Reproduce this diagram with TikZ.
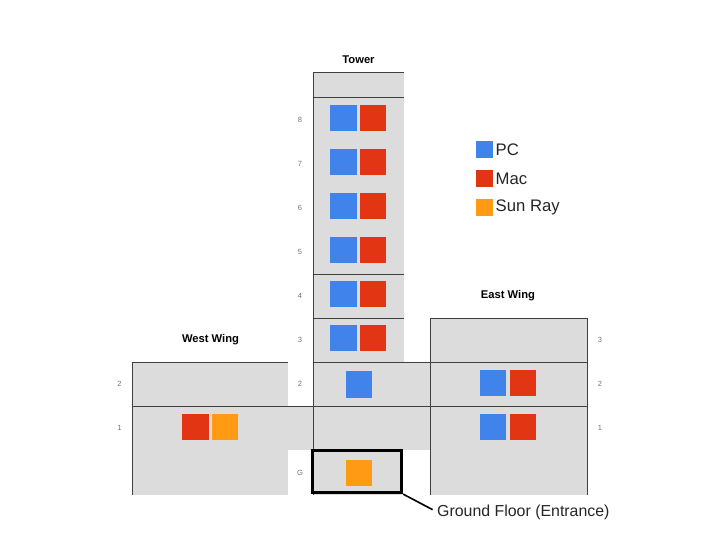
\documentclass[tikz,border=0pt]{standalone}
\usepackage{fontspec}
\setmainfont{Liberation Sans}
\definecolor{pcblue}{HTML}{4083EA}
\definecolor{macred}{HTML}{E13513}
\definecolor{sunorange}{HTML}{FE9A14}
\definecolor{floorgray}{HTML}{DCDCDC}
\definecolor{linegray}{HTML}{404040}
\begin{document}
\begin{tikzpicture}[x=1pt,y=-1pt,font=\small]
  \tikzset{
    cell/.style={draw=none,inner sep=0pt,minimum width=26.5pt,minimum height=26.5pt},
    pc/.style={cell,fill=pcblue},
    mac/.style={cell,fill=macred},
    sun/.style={cell,fill=sunorange},
    key/.style={draw=none,inner sep=0pt,minimum width=17pt,minimum height=17pt},
    keytxt/.style={anchor=west,inner sep=0pt,font=\fontsize{16.7}{18}\selectfont,text=black!85},
    wing/.style={inner sep=0pt,font=\fontsize{11.2}{12}\selectfont\bfseries},
    lvl/.style={inner sep=0pt,font=\fontsize{7.5}{8}\selectfont,text=black!55},
    fl/.style={draw=linegray,line width=0.9pt}
  }
  \useasboundingbox (0,0) rectangle (720,540);

  % floor areas
  \fill[floorgray] (313,72) rectangle (404,362);
  \fill[floorgray] (132,362) rectangle (288,406);
  \fill[floorgray] (132,406) rectangle (313,450);
  \fill[floorgray] (132,450) rectangle (288,495);
  \fill[floorgray] (313,362) rectangle (430,450);
  \fill[floorgray] (313,450) rectangle (402,495);
  \fill[floorgray] (430,318) rectangle (587,495);

  % floor lines
  \draw[fl] (313,495) -- (313,72) -- (404,72);
  \draw[fl] (313,97) -- (404,97);
  \draw[fl] (313,274) -- (404,274);
  \draw[fl] (313,318) -- (404,318);
  \draw[fl] (132,495) -- (132,362) -- (288,362);
  \draw[fl] (313,362) -- (587,362);
  \draw[fl] (132,406) -- (587,406);
  \draw[fl] (430,495) -- (430,318) -- (587,318) -- (587,495);

  % titles
  \node[wing] (tower) at (358.5,59.5) {Tower};
  \node[wing] (west) at (210.5,339.5) {West Wing};
  \node[wing] (east) at (508,295.5) {East Wing};

  % levels
  \node[lvl] (t8) at (300,119.5) {8};
  \node[lvl] (t7) at (300,163.5) {7};
  \node[lvl] (t6) at (300,207.5) {6};
  \node[lvl] (t5) at (300,251.5) {5};
  \node[lvl] (t4) at (300,295.5) {4};
  \node[lvl] (t3) at (300,340) {3};
  \node[lvl] (t2) at (300,384) {2};
  \node[lvl] (tg) at (300,473) {G};
  \node[lvl] (w2) at (119.5,384) {2};
  \node[lvl] (w1) at (119.5,428) {1};
  \node[lvl] (e3) at (600,340) {3};
  \node[lvl] (e2) at (600,384) {2};
  \node[lvl] (e1) at (600,428) {1};

  % tower machines
  \node[pc] (pc8) at (343.5,118) {};
  \node[mac] (mac8) at (373,118) {};
  \node[pc] (pc7) at (343.5,162) {};
  \node[mac] (mac7) at (373,162) {};
  \node[pc] (pc6) at (343.5,206) {};
  \node[mac] (mac6) at (373,206) {};
  \node[pc] (pc5) at (343.5,250) {};
  \node[mac] (mac5) at (373,250) {};
  \node[pc] (pc4) at (343.5,294) {};
  \node[mac] (mac4) at (373,294) {};
  \node[pc] (pc3) at (343.5,338) {};
  \node[mac] (mac3) at (373,338) {};
  \node[pc] (pc2) at (359,384.5) {};
  \node[sun] (sung) at (359,473) {};

  % wings
  \node[mac] (macw) at (195.5,427) {};
  \node[sun] (sunw) at (225,427) {};
  \node[pc] (pce2) at (493,383) {};
  \node[mac] (mace2) at (523,383) {};
  \node[pc] (pce1) at (493,427) {};
  \node[mac] (mace1) at (523,427) {};

  % legend
  \node[key,fill=pcblue] (kpc) at (484.5,149.5) {};
  \node[key,fill=macred] (kmac) at (484.5,178.5) {};
  \node[key,fill=sunorange] (ksun) at (484.5,207.5) {};
  \node[keytxt] (tpc) at (495.5,149.5) {PC};
  \node[keytxt] (tmac) at (495.5,178.5) {Mac};
  \node[keytxt] (tsun) at (495.5,207.5) {Sun Ray};

  % entrance
  \node[draw=black,line width=3.2pt,minimum width=89pt,minimum height=42pt,inner sep=0pt] (entry) at (357,471.5) {};
  \node[anchor=west,inner sep=0pt,font=\fontsize{15.9}{17}\selectfont,text=black!85] (ground) at (437,512) {Ground Floor (Entrance)};
  \draw[line width=1.6pt,shorten >=5pt] (entry.south east) -- (ground.west);
\end{tikzpicture}
\end{document}
